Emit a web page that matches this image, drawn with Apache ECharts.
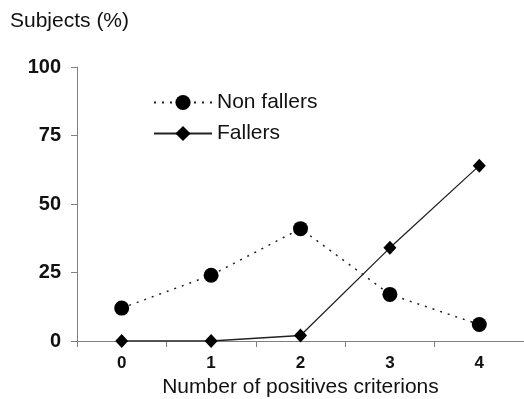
<!DOCTYPE html>
<html>
<head>
<meta charset="utf-8">
<script src="https://cdn.jsdelivr.net/npm/echarts@6/dist/echarts.min.js"></script>
<style>
  html, body { margin: 0; padding: 0; background: #fff; }
  #chart { width: 524px; height: 399px; }
</style>
</head>
<body>
<div id="chart"></div>
<script>
// data
const categories = ['0', '1', '2', '3', '4'];
const nonFallers = [12, 24, 41, 17, 6];
const fallers = [0, 0, 2, 34, 64];
const yTicks = [0, 25, 50, 75, 100];

const chart = echarts.init(document.getElementById('chart'));
const font = 'Liberation Sans, Arial, sans-serif';

const option = {
    animation: false,
    backgroundColor: '#fff',
    grid: {
        left: 77,
        right: 0,
        top: 67,
        bottom: 58,
        containLabel: false,
        outerBoundsMode: 'none'
    },
    title: {
        text: 'Subjects (%)',
        left: 5,
        top: 6,
        textStyle: {
            fontFamily: font,
            fontSize: 21,
            fontWeight: 'normal',
            color: '#111'
        }
    },
    legend: {
        orient: 'vertical',
        left: 148,
        top: 87,
        itemWidth: 58,
        itemHeight: 19,
        itemGap: 10,
        textStyle: {
            fontFamily: font,
            fontSize: 21,
            color: '#111',
            padding: [0, 0, 0, 0]
        },
        data: ['Non fallers', 'Fallers']
    },
    xAxis: {
        type: 'category',
        data: categories,
        name: 'Number of positives criterions',
        nameLocation: 'middle',
        nameGap: 35,
        nameTextStyle: {
            fontFamily: font,
            fontSize: 21,
            color: '#111'
        },
        axisLine: { lineStyle: { color: '#808080', width: 1 } },
        axisTick: { show: true, length: 6, lineStyle: { color: '#808080' } },
        axisLabel: {
            fontFamily: font,
            fontSize: 17,
            fontWeight: 'bold',
            color: '#111',
            margin: 14
        }
    },
    yAxis: {
        type: 'value',
        min: yTicks[0],
        max: yTicks[yTicks.length - 1],
        interval: 25,
        axisLine: { show: true, lineStyle: { color: '#808080', width: 1 } },
        axisTick: { show: true, length: 6, lineStyle: { color: '#808080' } },
        splitLine: { show: false },
        axisLabel: {
            fontFamily: font,
            fontSize: 20,
            fontWeight: 'bold',
            color: '#111',
            margin: 16
        }
    },
    series: [
        {
            name: 'Non fallers',
            type: 'line',
            data: nonFallers,
            symbol: 'circle',
            symbolSize: 15,
            itemStyle: { color: '#000' },
            lineStyle: { color: '#222', width: 1.5, type: [2, 6] }
        },
        {
            name: 'Fallers',
            type: 'line',
            data: fallers,
            symbol: 'diamond',
            symbolSize: [13, 14],
            itemStyle: { color: '#000' },
            lineStyle: { color: '#222', width: 1.3, type: 'solid' }
        }
    ]
};

chart.setOption(option);
</script>
</body>
</html>
